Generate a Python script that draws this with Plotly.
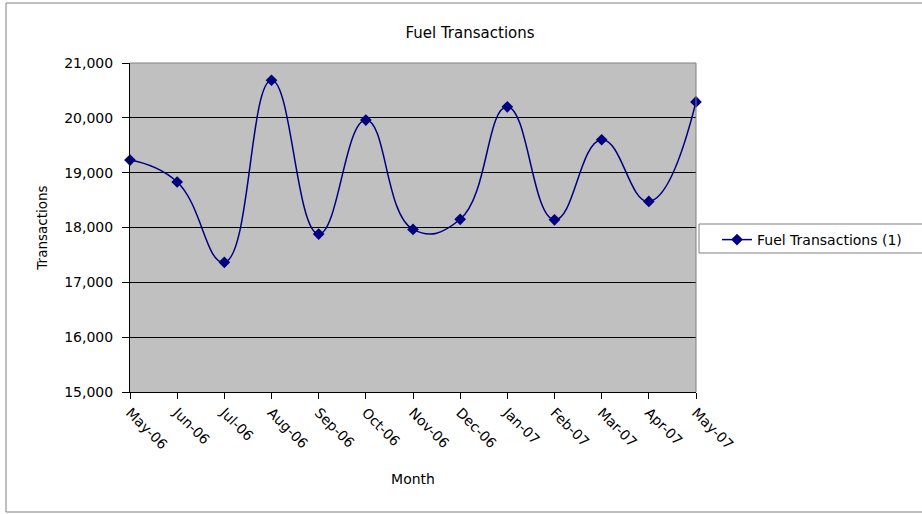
import plotly.graph_objects as go

months = ["May-06", "Jun-06", "Jul-06", "Aug-06", "Sep-06", "Oct-06", "Nov-06",
          "Dec-06", "Jan-07", "Feb-07", "Mar-07", "Apr-07", "May-07"]
transactions = [19230, 18830, 17365, 20685, 17880, 19960, 17965,
                18150, 20200, 18140, 19600, 18475, 20290]
series_name = "Fuel Transactions (1)"
y_ticks = [15000, 16000, 17000, 18000, 19000, 20000, 21000]

W, H = 922, 514
L, R, T, B = 130, 226, 63, 122
pw, ph = W - L - R, H - T - B

def px_x(p):
    return (p - L) / pw

def px_y(p):
    return (H - B - p) / ph

font_family = "DejaVu Sans, Tahoma, sans-serif"
navy = "#000080"

fig = go.Figure()
fig.add_trace(go.Scatter(
    x=months, y=transactions, name=series_name,
    mode="lines+markers",
    line=dict(color=navy, width=1.5, shape="spline", smoothing=1.3),
    marker=dict(symbol="diamond", size=9, color=navy),
    cliponaxis=False,
))

fig.update_layout(
    width=W, height=H,
    margin=dict(l=L, r=R, t=T, b=B, autoexpand=False),
    paper_bgcolor="white",
    plot_bgcolor="#C0C0C0",
    font=dict(family=font_family, size=14, color="black"),
    title=dict(text="Fuel Transactions", x=px_x(470), xref="paper", xanchor="center",
               y=1 - 33 / H, yref="container", yanchor="middle",
               font=dict(size=15)),
    showlegend=True,
    legend=dict(x=px_x(717), y=px_y(224), xanchor="left", yanchor="top",
                bgcolor="rgba(0,0,0,0)", borderwidth=0,
                font=dict(size=14)),
    xaxis=dict(
        type="category", range=[0, len(months) - 1],
        showgrid=False, showline=True, linecolor="black", linewidth=1,
        ticks="outside", ticklen=6, tickcolor="black", tickangle=45,
        tickfont=dict(size=14),
        title=dict(text="Month", font=dict(size=14), standoff=22),
        zeroline=False,
    ),
    yaxis=dict(
        range=[15000, 21000], tickvals=y_ticks, tickformat=",",
        showgrid=True, gridcolor="black", gridwidth=1,
        showline=True, linecolor="black", linewidth=1,
        ticks="outside", ticklen=7, tickcolor="black",
        tickfont=dict(size=14), ticklabelstandoff=6,
        title=dict(text="Transactions", font=dict(size=13.5), standoff=13),
        zeroline=False,
    ),
    shapes=[
        dict(type="line", xref="paper", yref="paper", x0=0, x1=1, y0=1, y1=1,
             line=dict(color="#808080", width=1)),
        dict(type="line", xref="paper", yref="paper", x0=1, x1=1, y0=0, y1=1,
             line=dict(color="#808080", width=1)),
        dict(type="rect", xref="paper", yref="paper",
             x0=px_x(6), x1=px_x(925), y0=px_y(512), y1=px_y(3),
             line=dict(color="#808080", width=1), fillcolor="rgba(0,0,0,0)",
             layer="below"),
        dict(type="rect", xref="paper", yref="paper",
             x0=px_x(699), x1=px_x(930), y0=px_y(253), y1=px_y(224),
             line=dict(color="#808080", width=1), fillcolor="white",
             layer="below"),
    ],
)

fig.write_html("out.html", config={"displayModeBar": False},
               post_script="document.body.style.margin='0px';")
